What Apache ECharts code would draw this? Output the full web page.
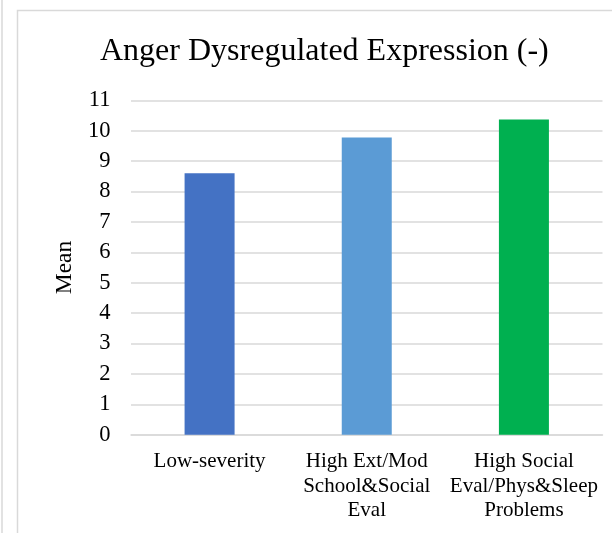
<!DOCTYPE html>
<html><head><meta charset="utf-8">
<script src="https://cdn.jsdelivr.net/npm/echarts@6/dist/echarts.min.js"></script>
<style>html,body{margin:0;padding:0;background:#fff}#c{width:612px;height:533px}</style>
</head><body><div id="c"></div>
<script>
const titleText = 'Anger Dysregulated Expression (-)';
const categories = ['Low-severity', 'High Ext/Mod\nSchool&Social\nEval', 'High Social\nEval/Phys&Sleep\nProblems'];
const meanValues = [8.6, 9.78, 10.37];
const barColors = ['#4472C4', '#5B9BD5', '#00B050'];
const yAxisName = 'Mean';

const font = 'Liberation Serif, Times New Roman, serif';
const chart = echarts.init(document.getElementById('c'));
chart.setOption({
  animation: false,
  title: { text: titleText, left: 95, top: 31,
    textStyle: { fontFamily: font, fontSize: 32, fontWeight: 'normal', color: '#000' } },
  graphic: [
    { type: 'line', shape: { x1: 2, y1: 0, x2: 2, y2: 533 }, style: { stroke: '#d9d9d9', lineWidth: 1.5 } },
    { type: 'rect', shape: { x: 17.5, y: 10.5, width: 700, height: 700 }, style: { fill: 'none', stroke: '#d9d9d9', lineWidth: 1.5 } }
  ],
  grid: { left: 131, right: 9.5, top: 100.3, bottom: 98.3, outerBoundsMode: 'none', containLabel: false },
  xAxis: { type: 'category', data: categories,
    axisLine: { lineStyle: { color: '#d9d9d9', width: 1.5 } }, axisTick: { show: false },
    axisLabel: { fontFamily: font, fontSize: 21, color: '#000', margin: 15, lineHeight: 24.5, interval: 0 } },
  yAxis: { type: 'value', min: 0, max: 11, interval: 1,
    name: yAxisName, nameLocation: 'middle', nameGap: 53,
    nameTextStyle: { fontFamily: font, fontSize: 23.5, color: '#000' },
    axisLine: { show: false }, axisTick: { show: false },
    splitLine: { lineStyle: { color: '#d9d9d9', width: 1.5 } },
    axisLabel: { fontFamily: font, fontSize: 22.5, color: '#000', margin: 20.5 } },
  series: [{ type: 'bar', barWidth: 50,
    data: meanValues.map((v, i) => ({ value: v, itemStyle: { color: barColors[i] } })) }]
});
</script></body></html>
